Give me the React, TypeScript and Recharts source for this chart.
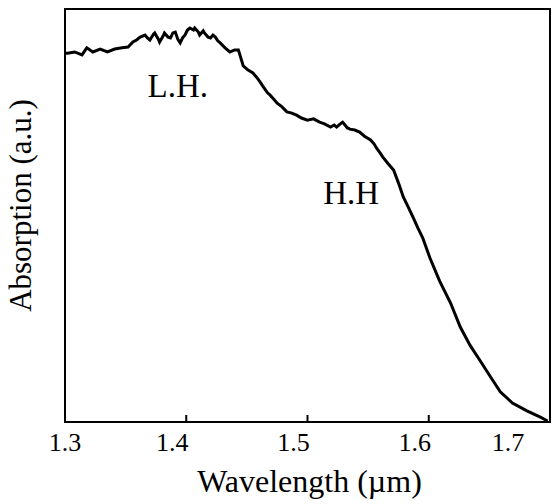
import React from 'react';
import { LineChart, Line, XAxis, YAxis, ReferenceArea, ReferenceDot, Label } from 'recharts';

// wavelength in µm, absorption in arbitrary units (0..1 of the frame)
const wavelength = [
  1.300, 1.302, 1.308, 1.314, 1.318, 1.323, 1.329, 1.335, 1.341, 1.347,
  1.352, 1.356, 1.359, 1.362, 1.366, 1.368, 1.370, 1.373, 1.374, 1.377,
  1.378, 1.381, 1.382, 1.385, 1.387, 1.389, 1.391, 1.393, 1.395, 1.397,
  1.399, 1.401, 1.403, 1.406, 1.407, 1.410, 1.411, 1.414, 1.415, 1.418,
  1.420, 1.422, 1.424, 1.426, 1.428, 1.432, 1.436, 1.440, 1.443, 1.447,
  1.451, 1.455, 1.458, 1.461, 1.463, 1.467, 1.469, 1.472, 1.475, 1.479,
  1.483, 1.487, 1.491, 1.495, 1.500, 1.505, 1.510, 1.514, 1.519, 1.522,
  1.524, 1.527, 1.529, 1.533, 1.535, 1.539, 1.543, 1.547, 1.552, 1.555,
  1.557, 1.560, 1.562, 1.566, 1.571, 1.575, 1.579, 1.583, 1.587, 1.591,
  1.595, 1.601, 1.609, 1.618, 1.626, 1.634, 1.642, 1.651, 1.659, 1.669,
  1.681, 1.692, 1.698,
];
const absorption = [
  0.893, 0.893, 0.896, 0.889, 0.906, 0.896, 0.903, 0.896, 0.903, 0.906,
  0.908, 0.920, 0.925, 0.932, 0.937, 0.930, 0.925, 0.939, 0.942, 0.927,
  0.920, 0.935, 0.942, 0.932, 0.930, 0.942, 0.944, 0.927, 0.918, 0.930,
  0.937, 0.949, 0.954, 0.949, 0.954, 0.944, 0.937, 0.947, 0.942, 0.932,
  0.930, 0.937, 0.932, 0.923, 0.918, 0.906, 0.896, 0.901, 0.901, 0.862,
  0.852, 0.845, 0.835, 0.823, 0.814, 0.797, 0.792, 0.782, 0.772, 0.763,
  0.751, 0.748, 0.743, 0.736, 0.731, 0.734, 0.726, 0.722, 0.714, 0.719,
  0.714, 0.722, 0.726, 0.712, 0.709, 0.707, 0.702, 0.692, 0.683, 0.673,
  0.663, 0.651, 0.642, 0.627, 0.610, 0.579, 0.545, 0.521, 0.496, 0.470,
  0.446, 0.397, 0.341, 0.288, 0.230, 0.186, 0.150, 0.109, 0.073, 0.046,
  0.027, 0.012, 0.002,
];

const xTicks = [1.3, 1.4, 1.5, 1.6, 1.7];
const tickLabels = ['1.3', '1.4', '1.5', '1.6', '1.7'];

const bandNames = ['L.H.', 'H.H'];
const bandX = [1.393, 1.536];
const bandY = [0.816, 0.557];

const data = wavelength.map((w, i) => ({ w, a: absorption[i] }));

const FONT = '"Liberation Serif", "Times New Roman", serif';

const WaveTick = (props: any) => {
  const { x, y, index } = props;
  const last = xTicks.length - 1;
  const inner = index > 0 && index < last;
  const dx = index === 0 ? 0 : index === last ? -42 : -14;
  return (
    <g>
      {inner && <line x1={x} x2={x} y1={y} y2={y - 7} stroke="#000" strokeWidth={2} />}
      <text x={x + dx} y={y + 29} textAnchor="middle" fontSize={26} fontFamily={FONT} fill="#000">
        {tickLabels[index]}
      </text>
    </g>
  );
};

const YTitle = ({ viewBox }: any) => {
  const cx = viewBox.x + 31;
  const cy = viewBox.y + viewBox.height / 2 - 10;
  return (
    <text x={cx} y={cy} transform={`rotate(-90 ${cx} ${cy})`} textAnchor="middle" fontSize={31} fontFamily={FONT} fill="#000">
      Absorption (a.u.)
    </text>
  );
};

const XTitle = ({ viewBox }: any) => {
  const cx = viewBox.x + viewBox.width / 2 + 2;
  return (
    <text x={cx} y={viewBox.y + 70} textAnchor="middle" fontSize={32} fontFamily={FONT} fill="#000">
      Wavelength (µm)
    </text>
  );
};

const App: React.FC = () => {
  return (
    <div style={{ position: 'absolute', left: 0, top: 0, background: '#fff' }}>
      <LineChart width={553} height={504} data={data} margin={{ top: 9, right: 3, left: 0, bottom: 0 }}>
        <XAxis
          dataKey="w"
          type="number"
          domain={[1.3, 1.7]}
          ticks={xTicks}
          height={82}
          axisLine={false}
          tickLine={false}
          tickSize={0}
          tickMargin={0}
          tick={<WaveTick />}
          interval={0}
        >
          <Label content={<XTitle />} />
        </XAxis>
        <YAxis type="number" domain={[0, 1]} width={65} tick={false} axisLine={false} tickLine={false}>
          <Label content={<YTitle />} />
        </YAxis>
        <ReferenceArea x1={1.3} x2={1.7} y1={0} y2={1} fill="none" stroke="#000" strokeWidth={2} />
        <Line
          dataKey="a"
          type="linear"
          stroke="#000"
          strokeWidth={3}
          dot={false}
          isAnimationActive={false}
        />
        {bandNames.map((name, i) => (
          <ReferenceDot
            key={name}
            x={bandX[i]}
            y={bandY[i]}
            r={0}
            fill="none"
            stroke="none"
            label={{ value: name, position: 'center', fontSize: 33, fontFamily: FONT, fill: '#000' }}
          />
        ))}
      </LineChart>
    </div>
  );
};

export default App;
